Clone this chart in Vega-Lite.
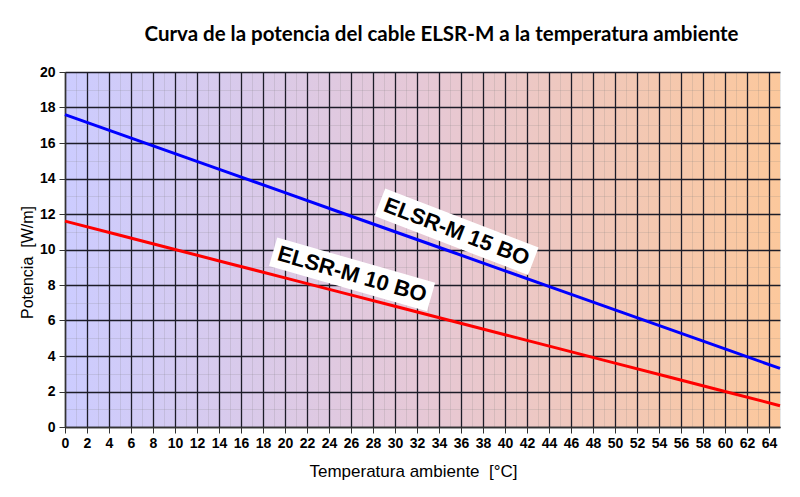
{
  "$schema": "https://vega.github.io/schema/vega-lite/v6.json",
  "width": 715,
  "height": 355,
  "autosize": "none",
  "padding": {"left": 65, "top": 72, "right": 20, "bottom": 70},
  "background": "white",
  "title": {
    "text": "Curva de la potencia del cable ELSR-M a la temperatura ambiente",
    "font": "Lato",
    "fontSize": 20.5,
    "fontWeight": "bold",
    "color": "black",
    "anchor": "middle",
    "dx": 19,
    "offset": 20
  },
  "config": {
    "view": {
      "stroke": null,
      "fill": {
        "gradient": "linear",
        "x1": 0, "y1": 0, "x2": 1, "y2": 0,
        "stops": [
          {"offset": 0, "color": "#ccccff"},
          {"offset": 0.5, "color": "#e6c8d6"},
          {"offset": 1, "color": "#fcc89c"}
        ]
      }
    }
  },
  "datasets": {
    "curvas": [
      {"cable": "ELSR-M 15 BO", "temperatura": 0, "potencia": 17.6},
      {"cable": "ELSR-M 15 BO", "temperatura": 5, "potencia": 16.5},
      {"cable": "ELSR-M 15 BO", "temperatura": 10, "potencia": 15.4},
      {"cable": "ELSR-M 15 BO", "temperatura": 15, "potencia": 14.3},
      {"cable": "ELSR-M 15 BO", "temperatura": 20, "potencia": 13.2},
      {"cable": "ELSR-M 15 BO", "temperatura": 25, "potencia": 12.1},
      {"cable": "ELSR-M 15 BO", "temperatura": 30, "potencia": 11.0},
      {"cable": "ELSR-M 15 BO", "temperatura": 35, "potencia": 9.9},
      {"cable": "ELSR-M 15 BO", "temperatura": 40, "potencia": 8.8},
      {"cable": "ELSR-M 15 BO", "temperatura": 45, "potencia": 7.7},
      {"cable": "ELSR-M 15 BO", "temperatura": 50, "potencia": 6.6},
      {"cable": "ELSR-M 15 BO", "temperatura": 55, "potencia": 5.5},
      {"cable": "ELSR-M 15 BO", "temperatura": 60, "potencia": 4.4},
      {"cable": "ELSR-M 15 BO", "temperatura": 65, "potencia": 3.3},
      {"cable": "ELSR-M 10 BO", "temperatura": 0, "potencia": 11.6},
      {"cable": "ELSR-M 10 BO", "temperatura": 5, "potencia": 10.8},
      {"cable": "ELSR-M 10 BO", "temperatura": 10, "potencia": 10.0},
      {"cable": "ELSR-M 10 BO", "temperatura": 15, "potencia": 9.2},
      {"cable": "ELSR-M 10 BO", "temperatura": 20, "potencia": 8.4},
      {"cable": "ELSR-M 10 BO", "temperatura": 25, "potencia": 7.6},
      {"cable": "ELSR-M 10 BO", "temperatura": 30, "potencia": 6.8},
      {"cable": "ELSR-M 10 BO", "temperatura": 35, "potencia": 6.0},
      {"cable": "ELSR-M 10 BO", "temperatura": 40, "potencia": 5.2},
      {"cable": "ELSR-M 10 BO", "temperatura": 45, "potencia": 4.4},
      {"cable": "ELSR-M 10 BO", "temperatura": 50, "potencia": 3.6},
      {"cable": "ELSR-M 10 BO", "temperatura": 55, "potencia": 2.8},
      {"cable": "ELSR-M 10 BO", "temperatura": 60, "potencia": 2.0},
      {"cable": "ELSR-M 10 BO", "temperatura": 65, "potencia": 1.2}
    ],
    "rotulo15": [{"cable": "ELSR-M 15 BO", "temperatura": 35.6, "potencia": 11.0}],
    "rotulo10": [{"cable": "ELSR-M 10 BO", "temperatura": 26.1, "potencia": 8.6}]
  },
  "layer": [
    {
      "data": {"name": "curvas"},
      "mark": {"type": "line", "strokeWidth": 3},
      "encoding": {
        "x": {
          "field": "temperatura",
          "type": "quantitative",
          "scale": {"domain": [0, 65], "nice": false},
          "axis": {
            "title": "Temperatura ambiente \u00a0[°C]",
            "titleX": 348,
            "tickCount": 130,
            "format": "d",
            "grid": true,
            "gridColor": {"condition": {"test": "datum.value % 2 === 0", "value": "#1c1c28"}, "value": "rgba(120,120,120,0.18)"},
            "gridWidth": {"condition": {"test": "datum.value % 2 === 0", "value": 1.3}, "value": 1},
            "tickColor": {"condition": {"test": "datum.value % 2 === 0", "value": "#333333"}, "value": "transparent"},
            "tickSize": 6,
            "labelExpr": "datum.value % 2 === 0 ? datum.label : ''",
            "labelOverlap": false,
            "labelFlush": false,
            "labelFont": "Liberation Sans",
            "labelFontSize": 14,
            "labelFontWeight": "bold",
            "labelColor": "black",
            "labelPadding": 3,
            "domainColor": "#333333",
            "domainWidth": 1.5,
            "titleFont": "Liberation Sans",
            "titleFontSize": 17,
            "titleFontWeight": "normal",
            "titleColor": "black",
            "titlePadding": 13
          }
        },
        "y": {
          "field": "potencia",
          "type": "quantitative",
          "scale": {"domain": [0, 20], "nice": false},
          "axis": {
            "title": "Potencia \u00a0[W/m]",
            "titleY": 190,
            "tickCount": 40,
            "format": "d",
            "grid": true,
            "gridColor": {"condition": {"test": "datum.value % 2 === 0", "value": "#1c1c28"}, "value": "rgba(120,120,120,0.18)"},
            "gridWidth": {"condition": {"test": "datum.value % 2 === 0", "value": 1.3}, "value": 1},
            "tickColor": {"condition": {"test": "datum.value % 2 === 0", "value": "#333333"}, "value": "transparent"},
            "tickSize": 6,
            "labelExpr": "datum.value % 2 === 0 ? datum.label : ''",
            "labelOverlap": false,
            "labelFlush": false,
            "labelFont": "Liberation Sans",
            "labelFontSize": 14,
            "labelFontWeight": "bold",
            "labelColor": "black",
            "labelPadding": 4,
            "domainColor": "#333333",
            "domainWidth": 1.5,
            "titleFont": "Liberation Sans",
            "titleFontSize": 16,
            "titleFontWeight": "normal",
            "titleColor": "black",
            "titlePadding": 4
          }
        },
        "color": {
          "field": "cable",
          "type": "nominal",
          "scale": {"domain": ["ELSR-M 10 BO", "ELSR-M 15 BO"], "range": ["#ff0000", "#0000ff"]},
          "legend": null
        }
      }
    },
    {
      "data": {"name": "rotulo15"},
      "layer": [
        {
          "mark": {"type": "point", "shape": "M-1,-0.18L1,-0.18L1,0.18L-1,0.18Z", "filled": true, "color": "white", "opacity": 1, "size": 27000, "angle": 21, "strokeWidth": 0},
          "encoding": {
            "x": {"field": "temperatura", "type": "quantitative"},
            "y": {"field": "potencia", "type": "quantitative"}
          }
        },
        {
          "mark": {"type": "text", "font": "Liberation Sans", "fontSize": 22, "fontWeight": "bold", "color": "black", "angle": 21, "align": "center", "baseline": "middle"},
          "encoding": {
            "x": {"field": "temperatura", "type": "quantitative"},
            "y": {"field": "potencia", "type": "quantitative"},
            "text": {"field": "cable"}
          }
        }
      ]
    },
    {
      "data": {"name": "rotulo10"},
      "layer": [
        {
          "mark": {"type": "point", "shape": "M-1,-0.18L1,-0.18L1,0.18L-1,0.18Z", "filled": true, "color": "white", "opacity": 1, "size": 27000, "angle": 16, "strokeWidth": 0},
          "encoding": {
            "x": {"field": "temperatura", "type": "quantitative"},
            "y": {"field": "potencia", "type": "quantitative"}
          }
        },
        {
          "mark": {"type": "text", "font": "Liberation Sans", "fontSize": 22, "fontWeight": "bold", "color": "black", "angle": 16, "align": "center", "baseline": "middle"},
          "encoding": {
            "x": {"field": "temperatura", "type": "quantitative"},
            "y": {"field": "potencia", "type": "quantitative"},
            "text": {"field": "cable"}
          }
        }
      ]
    }
  ]
}
